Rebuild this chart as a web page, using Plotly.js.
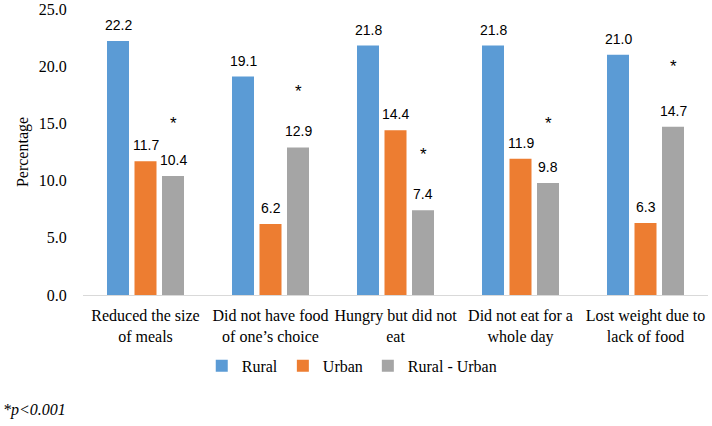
<!DOCTYPE html>
<html>
<head>
<meta charset="utf-8">
<script src="https://cdn.plot.ly/plotly-3.0.1.min.js"></script>
<style>html,body{margin:0;padding:0;background:#fff;}#chart{width:712px;height:426px;}</style>
</head>
<body>
<div id="chart"></div>
<script>
var categories = [
  "Reduced the size<br>of meals",
  "Did not have food<br>of one\u2019s choice",
  "Hungry but did not<br>eat",
  "Did not eat for a<br>whole day",
  "Lost weight due to<br>lack of food"
];
var rural = [22.2, 19.1, 21.8, 21.8, 21.0];
var urban = [11.7, 6.2, 14.4, 11.9, 6.3];
var ruralMinusUrban = [10.4, 12.9, 7.4, 9.8, 14.7];
var starY = [15.1, 17.9, 12.4, 15.1, 20.1];
var seriesNames = ["Rural", "Urban", "Rural - Urban"];
var colors = ["#5B9BD5", "#ED7D31", "#A5A5A5"];
var footnote = "*p<0.001";

var serif = "Liberation Serif, Times New Roman, serif";
var sans = "Liberation Sans, Arial, sans-serif";

var series = [rural, urban, ruralMinusUrban];
var traces = series.map(function (vals, i) {
  return {
    type: "bar",
    name: seriesNames[i],
    x: categories,
    y: vals,
    marker: {color: colors[i]},
    hoverinfo: "x+y"
  };
});

var annotations = [];
series.forEach(function (vals, i) {
  vals.forEach(function (v, j) {
    annotations.push({
      x: categories[j], y: v, xref: "x", yref: "y",
      xshift: (i - 1) * 27.5, yshift: 6,
      text: v.toFixed(1), showarrow: false,
      yanchor: "bottom",
      font: {family: sans, size: 14, color: "#000"}
    });
  });
});
starY.forEach(function (v, i) {
  annotations.push({
    x: categories[i], y: v, xref: "x", yref: "y",
    xshift: 27.5, yshift: -1,
    text: "*", showarrow: false,
    font: {family: sans, size: 17, color: "#000"},
    yanchor: "middle"
  });
});
annotations.push({
  xref: "paper", yref: "paper", x: -0.1312, y: -0.401,
  xanchor: "left", yanchor: "middle", showarrow: false,
  text: "<i>" + footnote.replace("<", "&lt;") + "</i>",
  font: {family: serif, size: 16, color: "#000"}
});

var layout = {
  width: 712, height: 426,
  font: {family: serif, size: 16, color: "#000"},
  margin: {l: 83, r: 4, t: 8.5, b: 131},
  paper_bgcolor: "#fff", plot_bgcolor: "#fff",
  barmode: "group",
  bargap: 0.34,
  bargroupgap: 0.2,
  showlegend: true,
  legend: {
    orientation: "h", x: 0.43, xanchor: "center", y: -0.248, yanchor: "middle",
    font: {family: serif, size: 16, color: "#000"},
    itemwidth: 30, traceorder: "normal"
  },
  xaxis: {
    type: "category",
    showline: true, linecolor: "#d9d9d9", linewidth: 1,
    ticks: "outside", ticklen: 6, tickcolor: "rgba(0,0,0,0)",
    tickfont: {family: serif, size: 16, color: "#000"},
    showgrid: false, zeroline: false, automargin: false
  },
  yaxis: {
    range: [0, 25], dtick: 5, tickformat: ".1f",
    showgrid: false, zeroline: false, showline: false,
    ticks: "outside", ticklen: 12, tickcolor: "rgba(0,0,0,0)",
    tickfont: {family: serif, size: 16, color: "#000"},
    title: {text: "Percentage", font: {family: serif, size: 16, color: "#000"}, standoff: 6},
    automargin: false
  },
  annotations: annotations
};

Plotly.newPlot("chart", traces, layout, {displayModeBar: false, staticPlot: true});
</script>
</body>
</html>
